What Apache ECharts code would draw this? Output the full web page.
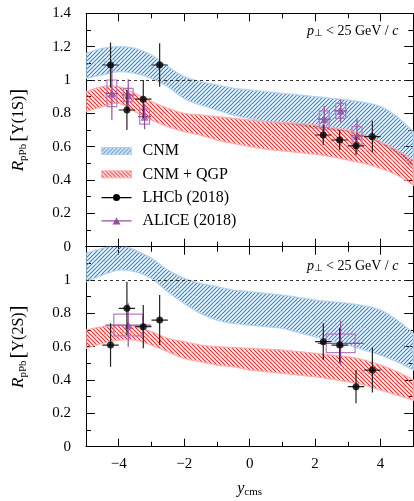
<!DOCTYPE html>
<html>
<head>
<meta charset="utf-8">
<script src="https://cdn.jsdelivr.net/npm/echarts@6/dist/echarts.min.js"></script>
<style>
  html, body { margin: 0; padding: 0; background: #fff; }
  #chart { width: 414px; height: 501px; }
</style>
</head>
<body>
<div id="chart"></div>
<script>
// rapidity grid for the model bands
const yGrid = [-5, -4.5, -4, -3.5, -3, -2.5, -2, -1.5, -1, -0.5, 0, 0.5, 1, 1.5, 2, 2.5, 3, 3.5, 4, 4.5, 5];

// Upsilon(1S) bands
const cnm1SLo = [1.01, 1.03, 1.05, 1.04, 1.01, 0.96, 0.89, 0.85, 0.82, 0.79, 0.77, 0.75, 0.74, 0.73, 0.71, 0.70, 0.69, 0.66, 0.62, 0.56, 0.48];
const cnm1SHi = [1.16, 1.19, 1.20, 1.19, 1.15, 1.08, 1.02, 0.99, 0.97, 0.95, 0.94, 0.93, 0.92, 0.91, 0.90, 0.89, 0.88, 0.865, 0.84, 0.78, 0.69];
const cnm1SMid = [1.085, 1.11, 1.125, 1.115, 1.08, 1.02, 0.955, 0.92, 0.895, 0.87, 0.855, 0.84, 0.83, 0.82, 0.805, 0.795, 0.785, 0.76, 0.73, 0.67, 0.585];
const qgp1SLo = [0.81, 0.84, 0.86, 0.81, 0.76, 0.72, 0.69, 0.67, 0.64, 0.62, 0.60, 0.585, 0.575, 0.565, 0.555, 0.54, 0.52, 0.50, 0.47, 0.43, 0.37];
const qgp1SHi = [0.93, 0.96, 0.96, 0.92, 0.87, 0.83, 0.80, 0.79, 0.78, 0.77, 0.76, 0.75, 0.745, 0.74, 0.73, 0.715, 0.70, 0.67, 0.63, 0.58, 0.52];
const qgp1SMid = [0.87, 0.90, 0.91, 0.865, 0.815, 0.775, 0.745, 0.73, 0.71, 0.695, 0.68, 0.67, 0.66, 0.65, 0.64, 0.63, 0.61, 0.585, 0.55, 0.505, 0.445];

// Upsilon(2S) bands
const cnm2SLo = [0.99, 1.03, 1.06, 1.05, 1.01, 0.93, 0.86, 0.80, 0.76, 0.74, 0.73, 0.72, 0.71, 0.685, 0.66, 0.635, 0.61, 0.58, 0.55, 0.51, 0.46];
const cnm2SHi = [1.16, 1.19, 1.21, 1.18, 1.13, 1.06, 1.01, 0.98, 0.96, 0.94, 0.93, 0.92, 0.91, 0.895, 0.88, 0.87, 0.86, 0.845, 0.82, 0.76, 0.68];
const cnm2SMid = [1.075, 1.11, 1.13, 1.115, 1.07, 0.995, 0.935, 0.89, 0.86, 0.84, 0.83, 0.82, 0.81, 0.79, 0.77, 0.75, 0.735, 0.71, 0.685, 0.635, 0.57];
const qgp2SLo = [0.59, 0.62, 0.64, 0.64, 0.61, 0.57, 0.53, 0.51, 0.49, 0.48, 0.46, 0.45, 0.44, 0.43, 0.42, 0.405, 0.39, 0.37, 0.34, 0.31, 0.28];
const qgp2SHi = [0.70, 0.72, 0.73, 0.72, 0.69, 0.65, 0.63, 0.61, 0.60, 0.595, 0.59, 0.585, 0.58, 0.57, 0.56, 0.55, 0.54, 0.52, 0.49, 0.45, 0.40];
const qgp2SMid = [0.645, 0.67, 0.685, 0.68, 0.65, 0.61, 0.58, 0.56, 0.545, 0.535, 0.525, 0.515, 0.51, 0.50, 0.49, 0.48, 0.465, 0.445, 0.415, 0.38, 0.34];

// LHCb (2018)
const lhcbX = [-4.25, -3.75, -3.25, -2.75, 2.25, 2.75, 3.25, 3.75];
const lhcbXErr = [0.25, 0.25, 0.25, 0.25, 0.25, 0.25, 0.25, 0.25];
const lhcb1S = [1.09, 0.82, 0.885, 1.09, 0.67, 0.64, 0.605, 0.66];
const lhcb1SErr = [0.135, 0.12, 0.115, 0.13, 0.06, 0.06, 0.055, 0.095];
const lhcb2S = [0.61, 0.83, 0.72, 0.76, 0.63, 0.61, 0.36, 0.46];
const lhcb2SErr = [0.13, 0.16, 0.13, 0.15, 0.11, 0.105, 0.10, 0.135];

// ALICE (2018)
const alice1SX = [-4.21, -3.71, -3.21, 2.28, 2.78, 3.28];
const alice1S = [0.92, 0.91, 0.78, 0.765, 0.815, 0.665];
const alice1SStat = [0.16, 0.095, 0.075, 0.08, 0.07, 0.105];
const alice1SSyst = [0.08, 0.04, 0.045, 0.05, 0.045, 0.055];
const alice1SXErr = [0.2, 0.2, 0.2, 0.2, 0.2, 0.2];
const alice1SBox = [0.15, 0.15, 0.15, 0.15, 0.15, 0.15];
const alice2SX = [-3.71, 2.78];
const alice2S = [0.73, 0.62];
const alice2SStat = [0.13, 0.135];
const alice2SSyst = [0.065, 0.055];
const alice2SXErr = [0.7, 0.7];
const alice2SBox = [0.44, 0.44];

const xMajor = [-4, -2, 0, 2, 4];
const FONT = 'Liberation Serif';
const BLUE = '#3382c6', BLUE_EDGE = '#b3d3ee', BLUE_MID = '#a6c9e8';
const RED = '#ee2a2a', RED_EDGE = '#f8b0b0', RED_MID = '#f5a3a3';
const PURPLE = '#984ea3';

function hatch(color, tint, forward) {
  const s = 4;
  const c = document.createElement('canvas');
  c.width = s; c.height = s;
  const g = c.getContext('2d');
  g.fillStyle = tint;
  g.fillRect(0, 0, s, s);
  g.strokeStyle = color;
  g.lineWidth = 1.1;
  g.beginPath();
  if (forward) {
    g.moveTo(0, s); g.lineTo(s, 0);
    g.moveTo(-1, 1); g.lineTo(1, -1);
    g.moveTo(s - 1, s + 1); g.lineTo(s + 1, s - 1);
  } else {
    g.moveTo(0, 0); g.lineTo(s, s);
    g.moveTo(s - 1, -1); g.lineTo(s + 1, 1);
    g.moveTo(-1, s - 1); g.lineTo(1, s + 1);
  }
  g.stroke();
  return { image: c, repeat: 'repeat' };
}
const blueHatch = hatch(BLUE, 'rgba(51,130,198,0.05)', true);
const redHatch = hatch(RED, 'rgba(238,42,42,0.05)', false);

// smooth curve through pixel points (Catmull-Rom as cubic Bezier)
function curve(pts) {
  let d = '';
  for (let i = 0; i < pts.length - 1; i++) {
    const p0 = pts[Math.max(i - 1, 0)], p1 = pts[i], p2 = pts[i + 1], p3 = pts[Math.min(i + 2, pts.length - 1)];
    const c1 = [p1[0] + (p2[0] - p0[0]) / 6, p1[1] + (p2[1] - p0[1]) / 6];
    const c2 = [p2[0] - (p3[0] - p1[0]) / 6, p2[1] - (p3[1] - p1[1]) / 6];
    d += 'C' + c1.join(',') + ' ' + c2.join(',') + ' ' + p2.join(',');
  }
  return d;
}

function bandRender(pattern, edge) {
  return function (params, api) {
    if (params.dataIndex !== 0) return null;
    const n = params.dataInsideLength;
    const up = [], dn = [];
    for (let j = 0; j < n; j++) {
      up.push(api.coord([api.value(0, j), api.value(2, j)]));
      dn.push(api.coord([api.value(0, j), api.value(1, j)]));
    }
    dn.reverse();
    const d = 'M' + up[0].join(',') + curve(up) + 'L' + dn[0].join(',') + curve(dn) + 'Z';
    return {
      type: 'path', shape: { pathData: d },
      style: { fill: pattern, stroke: edge, lineWidth: 1.3 }
    };
  };
}

function band(name, lo, hi, mid, pattern, edge, midColor, xi, yi, refLine) {
  const midLine = {
    type: 'line', name: name + ' central', xAxisIndex: xi, yAxisIndex: yi, symbol: 'none', smooth: 0.35, silent: true,
    data: yGrid.map((x, i) => [x, mid[i]]),
    lineStyle: { color: midColor, width: 0.9, type: [5, 4] }, z: 3
  };
  if (refLine) {
    midLine.markLine = {
      silent: true, symbol: 'none', label: { show: false },
      lineStyle: { color: '#222', type: [3, 3], width: 0.9 },
      data: [{ yAxis: 1 }]
    };
  }
  return [
    {
      type: 'custom', name, xAxisIndex: xi, yAxisIndex: yi, clip: true, silent: true, z: 2,
      itemStyle: { color: edge },
      renderItem: bandRender(pattern, edge),
      data: yGrid.map((x, i) => [x, lo[i], hi[i]])
    },
    midLine
  ];
}

function errRender(params, api) {
  const x = api.value(0), y = api.value(1), ey = api.value(2), ex = api.value(3);
  const a = api.coord([x, y - ey]), b = api.coord([x, y + ey]);
  const c = api.coord([x - ex, y]), d = api.coord([x + ex, y]);
  const st = { stroke: api.visual('color'), lineWidth: 1.2 };
  return {
    type: 'group', children: [
      { type: 'line', shape: { x1: a[0], y1: a[1], x2: b[0], y2: b[1] }, style: st },
      { type: 'line', shape: { x1: c[0], y1: c[1], x2: d[0], y2: d[1] }, style: st }
    ]
  };
}
function boxRender(params, api) {
  const x = api.value(0), y = api.value(1), sy = api.value(2), bw = api.value(3);
  const p = api.coord([x - bw, y + sy]), q = api.coord([x + bw, y - sy]);
  return {
    type: 'rect', shape: { x: p[0], y: p[1], width: q[0] - p[0], height: q[1] - p[1] },
    style: { fill: 'none', stroke: '#b27cc2', lineWidth: 1.2 }
  };
}

function points(xi, yi, lx, ly, le, ax, ay, aStat, aSyst, aXErr, aBox) {
  return [
    { type: 'custom', name: 'ALICE (2018)', xAxisIndex: xi, yAxisIndex: yi, renderItem: boxRender, clip: true,
      itemStyle: { color: PURPLE }, z: 5, silent: true,
      data: ax.map((x, i) => [x, ay[i], aSyst[i], aBox[i]]) },
    { type: 'custom', name: 'ALICE (2018)', xAxisIndex: xi, yAxisIndex: yi, renderItem: errRender, clip: true,
      itemStyle: { color: PURPLE }, z: 5, silent: true,
      data: ax.map((x, i) => [x, ay[i], aStat[i], aXErr[i]]) },
    { type: 'scatter', name: 'ALICE (2018)', xAxisIndex: xi, yAxisIndex: yi, symbol: 'triangle', symbolSize: 8,
      itemStyle: { color: PURPLE }, z: 6, silent: true,
      data: ax.map((x, i) => [x, ay[i]]) },
    { type: 'custom', name: 'LHCb (2018)', xAxisIndex: xi, yAxisIndex: yi, renderItem: errRender, clip: true,
      itemStyle: { color: '#222' }, z: 7, silent: true,
      data: lx.map((x, i) => [x, ly[i], le[i], lhcbXErr[i]]) },
    { type: 'scatter', name: 'LHCb (2018)', xAxisIndex: xi, yAxisIndex: yi, symbol: 'circle', symbolSize: 7,
      itemStyle: { color: '#000' }, z: 8, silent: true,
      data: lx.map((x, i) => [x, ly[i]]) }
  ];
}

const axisLineStyle = { color: '#000', width: 1 };
const minus = v => String(v).replace('-', '\u2212');

function xAxes(gridIndex, withLabels) {
  const base = { gridIndex, type: 'value', min: -5, max: 5, splitLine: { show: false } };
  const minor = Object.assign({}, base, {
    interval: 1,
    axisLine: { onZero: false, lineStyle: axisLineStyle },
    axisTick: { inside: true, length: 5, lineStyle: axisLineStyle }
  });
  const major = Object.assign({}, base, {
    axisLine: { show: false, onZero: false },
    axisTick: { inside: true, length: 8, customValues: xMajor, lineStyle: axisLineStyle },
    axisLabel: { show: false }
  });
  const bottom = Object.assign({}, minor, {
    position: 'bottom',
    axisLabel: withLabels
      ? { customValues: xMajor, formatter: minus, color: '#000', fontFamily: FONT, fontSize: 15, margin: 10 }
      : { show: false }
  });
  if (withLabels) {
    bottom.name = '{i|y}{s|cms}';
    bottom.nameLocation = 'middle';
    bottom.nameGap = 34;
    bottom.nameTextStyle = {
      color: '#000', fontFamily: FONT,
      rich: {
        i: { fontStyle: 'italic', fontSize: 16, fontFamily: FONT, color: '#000' },
        s: { fontSize: 11, fontFamily: FONT, color: '#000', verticalAlign: 'bottom', padding: [6, 0, 0, 0] }
      }
    };
  }
  return [
    bottom,
    Object.assign({}, major, { position: 'bottom' }),
    Object.assign({}, minor, { position: 'top', axisLabel: { show: false } }),
    Object.assign({}, major, { position: 'top' })
  ];
}

function yAxes(gridIndex, max, state) {
  const base = {
    gridIndex, type: 'value', min: 0, max, interval: 0.2, splitLine: { show: false },
    axisLine: { onZero: false, lineStyle: axisLineStyle },
    axisTick: { inside: true, length: 9, lineStyle: axisLineStyle },
    minorTick: { show: true, splitNumber: 2, length: 5, lineStyle: axisLineStyle }
  };
  return [
    Object.assign({}, base, {
      position: 'left',
      axisLabel: { color: '#000', fontFamily: FONT, fontSize: 15, margin: 15, showMaxLabel: max < 1.3 ? false : true },
      name: '{i|R}{s|pPb}{b|[}{t|\u03a5(' + state + ')}{b|]}',
      nameLocation: 'middle', nameGap: 57, nameRotate: 90,
      nameTextStyle: {
        color: '#000', fontFamily: FONT,
        rich: {
          i: { fontStyle: 'italic', fontSize: 17, fontFamily: FONT, color: '#000' },
          s: { fontSize: 11, fontFamily: FONT, color: '#000', verticalAlign: 'bottom', padding: [7, 2, 0, 0] },
          b: { fontSize: 21, fontFamily: FONT, color: '#000' },
          t: { fontSize: 16, fontFamily: FONT, color: '#000' }
        }
      }
    }),
    Object.assign({}, base, { position: 'right', axisLabel: { show: false } })
  ];
}

const ptRich = {
  i: { fontStyle: 'italic', fontSize: 14, fontFamily: FONT, fill: '#000' },
  s: { fontSize: 10, fontFamily: FONT, fill: '#000', verticalAlign: 'bottom', padding: [5, 3, 0, 0] },
  n: { fontSize: 14, fontFamily: FONT, fill: '#000' }
};
const ptText = '{i|p}{s|\u22a5}{n|< 25 GeV / }{i|c}';

const series = [].concat(
  band('CNM', cnm1SLo, cnm1SHi, cnm1SMid, blueHatch, BLUE_EDGE, BLUE_MID, 0, 0, true),
  band('CNM + QGP', qgp1SLo, qgp1SHi, qgp1SMid, redHatch, RED_EDGE, RED_MID, 0, 0, false),
  points(0, 0, lhcbX, lhcb1S, lhcb1SErr, alice1SX, alice1S, alice1SStat, alice1SSyst, alice1SXErr, alice1SBox),
  band('CNM', cnm2SLo, cnm2SHi, cnm2SMid, blueHatch, BLUE_EDGE, BLUE_MID, 4, 2, true),
  band('CNM + QGP', qgp2SLo, qgp2SHi, qgp2SMid, redHatch, RED_EDGE, RED_MID, 4, 2, false),
  points(4, 2, lhcbX, lhcb2S, lhcb2SErr, alice2SX, alice2S, alice2SStat, alice2SSyst, alice2SXErr, alice2SBox)
);

const chart = echarts.init(document.getElementById('chart'), null, { renderer: 'canvas' });
chart.setOption({
  animation: false,
  backgroundColor: '#fff',
  grid: [
    { left: 79.7, right: 0.7, top: 13.3, height: 233.4 },
    { left: 79.7, right: 0.7, top: 246.7, height: 200 }
  ],
  xAxis: [].concat(xAxes(0, false), xAxes(1, true)),
  yAxis: [].concat(yAxes(0, 1.4, '1S'), yAxes(1, 1.2, '2S')),
  legend: {
    orient: 'vertical', left: 96, top: 138, itemWidth: 30, itemHeight: 7, itemGap: 7.3,
    selectedMode: false,
    textStyle: { color: '#000', fontFamily: FONT, fontSize: 16, lineHeight: 16, padding: [0, 0, 0, 6] },
    data: [
      { name: 'CNM', icon: 'rect', itemStyle: { color: blueHatch, borderColor: BLUE_EDGE, borderWidth: 1 } },
      { name: 'CNM + QGP', icon: 'rect', itemStyle: { color: redHatch, borderColor: RED_EDGE, borderWidth: 1 } },
      { name: 'LHCb (2018)', icon: 'path://M0,2.9L30,2.9L30,4.1L0,4.1Z M11.5,3.5A3.5,3.5 0 1,1 18.5,3.5A3.5,3.5 0 1,1 11.5,3.5Z',
        itemStyle: { color: '#000', borderWidth: 0 } },
      { name: 'ALICE (2018)', icon: 'path://M0,2.9L30,2.9L30,4.1L0,4.1Z M15,0L19,7L11,7Z',
        itemStyle: { color: PURPLE, borderWidth: 0 } }
    ]
  },
  graphic: [
    { type: 'text', left: 307, top: 24, silent: true, style: { text: ptText, rich: ptRich, font: '14px ' + FONT, fill: '#000' } },
    { type: 'text', left: 307, top: 259, silent: true, style: { text: ptText, rich: ptRich, font: '14px ' + FONT, fill: '#000' } }
  ],
  series
});
</script>
</body>
</html>
